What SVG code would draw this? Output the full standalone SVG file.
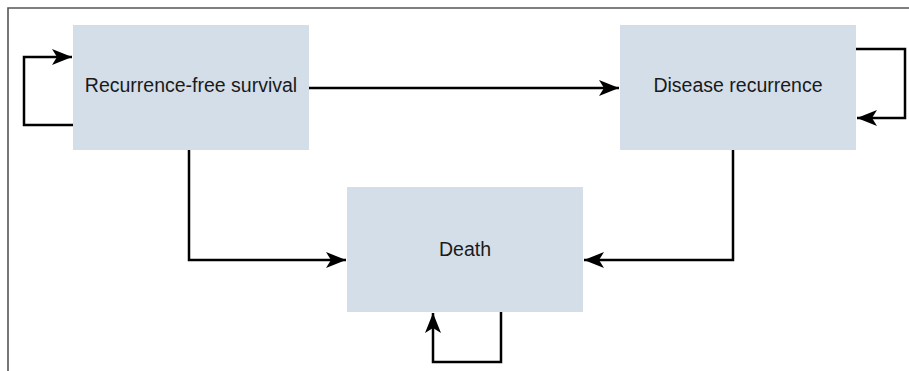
<svg xmlns="http://www.w3.org/2000/svg" width="909" height="371" viewBox="0 0 909 371">
<style>
.box{fill:#d4dee9;}
.lbl{font-family:"Liberation Sans",Arial,sans-serif;font-size:19.5px;fill:#1a1a1a;text-anchor:middle;}
.conn{fill:none;stroke:#000;stroke-width:2.5;}
.frame{fill:none;stroke:#555;stroke-width:1.6;}
</style>
<defs>
<marker id="ah" markerUnits="userSpaceOnUse" markerWidth="20" markerHeight="16" refX="20" refY="8" orient="auto" viewBox="0 0 20 16">
<path d="M0,0 L20,8 L0,16 L5,8 Z" fill="#000"/>
</marker>
</defs>
<rect width="909" height="371" fill="#fff"/>
<path class="frame" d="M8,371 V8 H909"/>
<g id="rfs">
<rect class="box" x="73" y="25" width="236" height="125"/>
<text class="lbl" x="191" y="92">Recurrence-free survival</text>
</g>
<g id="dr">
<rect class="box" x="620" y="25" width="236" height="125"/>
<text class="lbl" x="738" y="92">Disease recurrence</text>
</g>
<g id="death">
<rect class="box" x="347" y="187" width="236" height="125"/>
<text class="lbl" x="465" y="256">Death</text>
</g>
<g id="connectors">
<path class="conn" d="M73,125 H24 V57 H72" marker-end="url(#ah)"/>
<path class="conn" d="M309,88 H619" marker-end="url(#ah)"/>
<path class="conn" d="M856,49 H905 V118 H857" marker-end="url(#ah)"/>
<path class="conn" d="M189,150 V260 H346" marker-end="url(#ah)"/>
<path class="conn" d="M733,150 V260 H584" marker-end="url(#ah)"/>
<path class="conn" d="M501,312 V362 H433 V313" marker-end="url(#ah)"/>
</g>
</svg>
